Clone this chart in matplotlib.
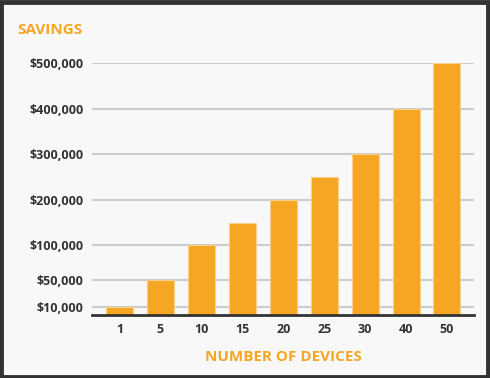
import numpy as np
import matplotlib
matplotlib.use("Agg")
import matplotlib.pyplot as plt
from matplotlib.patches import Rectangle

# data
devices = ["1", "5", "10", "15", "20", "25", "30", "40", "50"]
savings = [10000, 50000, 100000, 150000, 200000, 250000, 300000, 400000, 500000]
tick_vals = [10000, 50000, 100000, 200000, 300000, 400000, 500000]
tick_labels = ["$10,000", "$50,000", "$100,000", "$200,000", "$300,000", "$400,000", "$500,000"]

# the original axis is stretched at the low end: value -> screen position
scale_vals = [0, 10000, 50000, 100000, 200000, 300000, 400000, 500000]
scale_pos = [0, 8, 34.4, 69.7, 114.7, 160.4, 206, 251.7]

def fwd(v):
    return np.interp(v, scale_vals, scale_pos)

def inv(p):
    return np.interp(p, scale_pos, scale_vals)

orange = "#F5A623"
dark = "#333333"
plt.rcParams['font.family'] = ['Open Sans', 'DejaVu Sans']

fig = plt.figure(figsize=(4.9, 3.78), dpi=100)
fig.patch.set_facecolor("#f8f8f8")
W, H = 490, 378
ax = fig.add_axes([92 / W, (H - 314.7) / H, (474 - 92) / W, (314.7 - 63) / H])
ax.set_facecolor("#f8f8f8")
ax.set_yscale("function", functions=(fwd, inv))

x = np.arange(len(devices))
ax.bar(x, savings, width=0.66, color=orange, edgecolor="#fbd08a", linewidth=0.8, zorder=3)

ax.set_ylim(0, 500000)
ax.set_xlim(-0.67, len(devices) - 0.34)
ax.set_yticks(tick_vals)
ax.set_yticklabels(tick_labels)
ax.set_xticks(x)
ax.set_xticklabels(devices)
ax.yaxis.set_minor_locator(matplotlib.ticker.NullLocator())
ax.tick_params(length=0, labelsize=9, labelcolor=dark)
ax.tick_params(axis="y", pad=6)
ax.tick_params(axis="x", pad=6)
for lbl in ax.get_xticklabels() + ax.get_yticklabels():
    lbl.set_fontweight("bold")

ax.grid(axis="y", color="#cccccc", linewidth=1.5, zorder=0)
for s in ["top", "right", "left"]:
    ax.spines[s].set_visible(False)
ax.spines["bottom"].set_color(dark)
ax.spines["bottom"].set_linewidth(2)
ax.spines["bottom"].set_zorder(4)

ax.set_xlabel("NUMBER OF DEVICES", color=orange, fontsize=11, fontweight="bold", labelpad=10)
fig.text(17 / W, 1 - 30.5 / H, "SAVINGS", color=orange, fontsize=11, fontweight="bold", va="center", ha="left")

# frame around the figure
fig.patches.append(Rectangle((0.002, 0.003), 0.994, 0.993, transform=fig.transFigure,
                             fill=False, edgecolor=dark, linewidth=3.5))

fig.savefig("out.png", dpi=100, facecolor=fig.get_facecolor())
